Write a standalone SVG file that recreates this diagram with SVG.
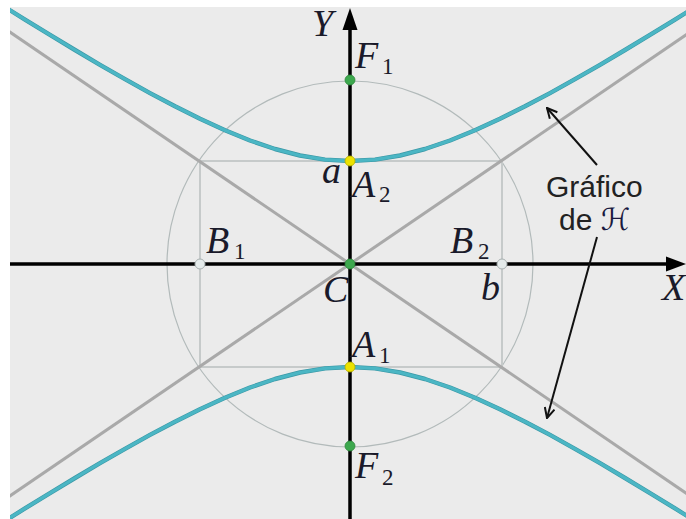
<svg xmlns="http://www.w3.org/2000/svg" width="686" height="519" viewBox="0 0 686 519">
<style>
.lbl{font-family:"Liberation Serif","Times New Roman",serif;font-style:italic;font-size:38px;fill:#1a1a2a}
.sub{font-family:"Liberation Serif","Times New Roman",serif;font-size:23px;fill:#1a1a2a}
.sans{font-family:"Liberation Sans",Arial,sans-serif;font-size:30px;fill:#222}
.hyp{fill:none;stroke:#4bb6c4;stroke-width:3.2;stroke-linejoin:round}
.hypo{fill:none;stroke:#3b98a6;stroke-width:4.4;stroke-linejoin:round}
.asym{stroke:#a9a9a9;stroke-width:3}
.axis{stroke:#000;stroke-width:3.5}
.ptr{fill:none;stroke:#111;stroke-width:2}
</style>
<defs>
<clipPath id="frame"><rect x="10" y="7" width="676" height="512"/></clipPath>
<marker id="chev" viewBox="0 0 12 12" refX="11" refY="6" markerWidth="12" markerHeight="12" markerUnits="userSpaceOnUse" orient="auto">
<path d="M1,1 L11,6 L1,11" fill="none" stroke="#111" stroke-width="2"/>
</marker>
</defs>
<rect width="686" height="519" fill="#fff"/>
<rect x="10" y="7" width="676" height="512" fill="#ebebeb"/>
<g id="construction" clip-path="url(#frame)">
<circle cx="350" cy="264" r="183" fill="none" stroke="#b2baba" stroke-width="1.2"/>
<rect x="200" y="161" width="302" height="206" fill="none" stroke="#c6caca" stroke-width="2"/>
<line class="asym" x1="0" y1="25.3" x2="700" y2="502.7"/>
<line class="asym" x1="0" y1="502.7" x2="700" y2="25.3"/>
</g>
<g id="hyperbola" clip-path="url(#frame)">
<polyline class="hypo" points="0,4 25,19.6 50,34.9 75,50 100,64.8 125,79.2 150,93.1 175,106.3 200,118.8 225,130.3 250,140.5 275,149 300,155.5 325,159.6 350,161 375,159.6 400,155.5 425,149 450,140.5 475,130.3 500,118.8 525,106.3 550,93.1 575,79.2 600,64.8 625,50 650,34.9 675,19.6 700,4"/>
<polyline class="hyp" points="0,4 25,19.6 50,34.9 75,50 100,64.8 125,79.2 150,93.1 175,106.3 200,118.8 225,130.3 250,140.5 275,149 300,155.5 325,159.6 350,161 375,159.6 400,155.5 425,149 450,140.5 475,130.3 500,118.8 525,106.3 550,93.1 575,79.2 600,64.8 625,50 650,34.9 675,19.6 700,4"/>
<polyline class="hypo" points="0,524 25,508.4 50,493.1 75,478 100,463.2 125,448.8 150,434.9 175,421.7 200,409.2 225,397.7 250,387.5 275,379 300,372.5 325,368.4 350,367 375,368.4 400,372.5 425,379 450,387.5 475,397.7 500,409.2 525,421.7 550,434.9 575,448.8 600,463.2 625,478 650,493.1 675,508.4 700,524"/>
<polyline class="hyp" points="0,524 25,508.4 50,493.1 75,478 100,463.2 125,448.8 150,434.9 175,421.7 200,409.2 225,397.7 250,387.5 275,379 300,372.5 325,368.4 350,367 375,368.4 400,372.5 425,379 450,387.5 475,397.7 500,409.2 525,421.7 550,434.9 575,448.8 600,463.2 625,478 650,493.1 675,508.4 700,524"/>
</g>
<g id="axes">
<line class="axis" x1="10" y1="264" x2="670" y2="264"/>
<polygon points="686,264 666,256.5 666,271.5" fill="#000"/>
<line class="axis" x1="350" y1="28" x2="350" y2="519"/>
<polygon points="350,8 342.5,30 357.5,30" fill="#000"/>
</g>
<g id="connectors">
<line class="ptr" x1="597" y1="165" x2="547" y2="108" marker-end="url(#chev)"/>
<line class="ptr" x1="597" y1="237" x2="547" y2="418" marker-end="url(#chev)"/>
</g>
<g id="F1"><circle cx="350" cy="80" r="5" fill="#3da84e" stroke="#2e8a3c" stroke-width="0.8"/></g>
<g id="A2"><circle cx="350" cy="161" r="5" fill="#ece200" stroke="#b8ae00" stroke-width="0.8"/></g>
<g id="C"><circle cx="350" cy="264" r="5" fill="#3da84e" stroke="#2e8a3c" stroke-width="0.8"/></g>
<g id="A1"><circle cx="350" cy="367" r="5" fill="#ece200" stroke="#b8ae00" stroke-width="0.8"/></g>
<g id="F2"><circle cx="350" cy="446" r="5" fill="#3da84e" stroke="#2e8a3c" stroke-width="0.8"/></g>
<g id="B1"><circle cx="200" cy="264" r="5" fill="#e4eaea" stroke="#a8b0b0" stroke-width="1"/></g>
<g id="B2"><circle cx="502" cy="264" r="5" fill="#e4eaea" stroke="#a8b0b0" stroke-width="1"/></g>
<g id="labels">
<text class="lbl" x="312" y="36">Y</text>
<text class="lbl" x="355" y="68">F</text><text class="sub" x="382" y="74">1</text>
<text class="lbl" x="322" y="183">a</text>
<text class="lbl" x="352" y="197">A</text><text class="sub" x="379" y="202">2</text>
<text class="lbl" x="206" y="253">B</text><text class="sub" x="234" y="259">1</text>
<text class="lbl" x="450" y="253">B</text><text class="sub" x="478" y="259">2</text>
<text class="lbl" x="323" y="302">C</text>
<text class="lbl" x="481" y="300">b</text>
<text class="lbl" x="662" y="300">X</text>
<text class="lbl" x="352" y="357">A</text><text class="sub" x="379" y="363">1</text>
<text class="lbl" x="355" y="478">F</text><text class="sub" x="382" y="485">2</text>
<text class="sans" x="546" y="197">Gráfico</text>
<text class="sans" x="559" y="230">de <tspan font-family="'DejaVu Serif','DejaVu Sans',serif" font-style="italic" fill="#1a1a40">ℋ</tspan></text>
</g>
</svg>
